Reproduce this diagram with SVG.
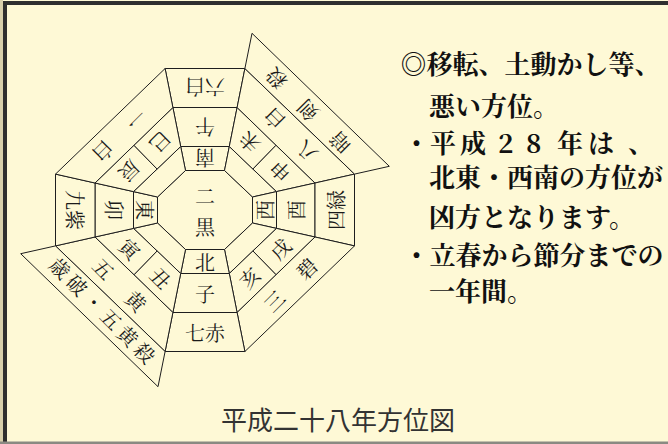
<svg xmlns="http://www.w3.org/2000/svg" width="668" height="444" viewBox="0 0 668 444">
<style>
.cell{fill:#FEF9D6;stroke:#1e1e1e;stroke-width:1;stroke-linejoin:miter}
.lb{font-family:"Noto Serif CJK JP","Noto Sans CJK JP","Noto Sans CJK SC",serif;font-size:20px;fill:#1a1a1a;text-anchor:middle;dominant-baseline:central}
.rt{font-family:"Noto Serif CJK JP","Noto Sans CJK JP","Noto Sans CJK SC",serif;font-size:26px;font-weight:700;fill:#111;dominant-baseline:central}
.cap{font-family:"Noto Sans CJK JP","Noto Sans CJK SC",sans-serif;font-size:26px;fill:#333;dominant-baseline:central}
</style>
<rect x="0" y="0" width="668" height="444" fill="#FEF9D6"/>
<rect x="0" y="0" width="3" height="444" fill="#d8d0ac"/>
<rect x="3" y="1" width="665" height="4" fill="#2f2f2f"/>
<rect x="3" y="1" width="4" height="443" fill="#2f2f2f"/>
<rect x="0" y="441.5" width="668" height="2.5" fill="#8a8a82"/>

<g id="connectors"></g>

<g id="center"><polygon class="cell" points="185.5,170.5 224.5,170.5 252.5,197 252.5,223 224.5,249.5 185.5,249.5 157.5,223 157.5,197"/>
<text class="lb" x="205" y="195">二</text><text class="lb" x="205" y="226.5">黒</text></g>

<g id="ring1-s"><polygon class="cell" points="180.7,146.5 229.3,146.5 224.5,170.5 185.5,170.5"/><text class="lb" transform="translate(205,158.5) rotate(180)">南</text></g>
<g id="ring1-sw"><polygon class="cell" points="229.3,146.5 276.5,191.6 252.5,197 224.5,170.5"/></g>
<g id="ring1-w"><polygon class="cell" points="276.5,191.6 276.5,228.4 252.5,223 252.5,197"/><text class="lb" transform="translate(264.5,210) rotate(-90)">西</text></g>
<g id="ring1-nw"><polygon class="cell" points="276.5,228.4 229.3,273.5 224.5,249.5 252.5,223"/></g>
<g id="ring1-n"><polygon class="cell" points="185.5,249.5 224.5,249.5 229.3,273.5 180.7,273.5"/><text class="lb" x="205" y="261.5">北</text></g>
<g id="ring1-ne"><polygon class="cell" points="180.7,273.5 133.5,228.4 157.5,223 185.5,249.5"/></g>
<g id="ring1-e"><polygon class="cell" points="133.5,228.4 133.5,191.6 157.5,197 157.5,223"/><text class="lb" transform="translate(145.5,210) rotate(90)">東</text></g>
<g id="ring1-se"><polygon class="cell" points="133.5,191.6 180.7,146.5 185.5,170.5 157.5,197"/></g>

<g id="uma"><polygon class="cell" points="172.9,107.5 237.1,107.5 229.3,146.5 180.7,146.5"/><text class="lb" transform="translate(205,127) rotate(180)">午</text></g>
<g id="hitsuji"><polygon class="cell" points="229.3,146.5 252.9,169.05 276.05,145.25 237.1,107.5"/><text class="lb" transform="translate(249,142.5) rotate(-135)">未</text></g>
<g id="saru"><polygon class="cell" points="252.9,169.05 276.5,191.6 315,183 276.05,145.25"/><text class="lb" transform="translate(280,171.5) rotate(-135)">申</text></g>
<g id="tori"><polygon class="cell" points="276.5,191.6 315,183 315,237 276.5,228.4"/><text class="lb" transform="translate(295.5,210) rotate(-90)">酉</text></g>
<g id="inu"><polygon class="cell" points="276.5,228.4 252.9,250.95 276.05,274.75 315,237"/><text class="lb" transform="translate(280,248.5) rotate(-45)">戌</text></g>
<g id="i"><polygon class="cell" points="252.9,250.95 229.3,273.5 237.1,312.5 276.05,274.75"/><text class="lb" transform="translate(249,277.5) rotate(-45)">亥</text></g>
<g id="ne"><polygon class="cell" points="229.3,273.5 237.1,312.5 172.9,312.5 180.7,273.5"/><text class="lb" x="205" y="293.5">子</text></g>
<g id="ushi"><polygon class="cell" points="180.7,273.5 157.1,250.95 133.95,274.75 172.9,312.5"/><text class="lb" transform="translate(161,277.5) rotate(45)">丑</text></g>
<g id="tora"><polygon class="cell" points="157.1,250.95 133.5,228.4 95,237 133.95,274.75"/><text class="lb" transform="translate(130,248.5) rotate(45)">寅</text></g>
<g id="u"><polygon class="cell" points="133.5,228.4 95,237 95,183 133.5,191.6"/><text class="lb" transform="translate(114,210) rotate(90)">卯</text></g>
<g id="tatsu"><polygon class="cell" points="133.5,191.6 157.1,169.05 133.95,145.25 95,183"/><text class="lb" transform="translate(130,171.5) rotate(135)">辰</text></g>
<g id="mi"><polygon class="cell" points="157.1,169.05 180.7,146.5 172.9,107.5 133.95,145.25"/><text class="lb" transform="translate(161,142.5) rotate(135)">巳</text></g>

<g id="roppaku"><polygon class="cell" points="165.1,68.5 244.9,68.5 237.1,107.5 172.9,107.5"/><text class="lb" transform="translate(205,87) rotate(180)">六白</text></g>
<g id="happaku"><polygon class="cell" points="237.1,107.5 244.9,68.5 354.5,174.1 315,183"/><text class="lb" transform="translate(290,135.5) rotate(-135)" x="-23 23">八白</text></g>
<g id="shiroku"><polygon class="cell" points="315,183 354.5,174.1 354.5,245.9 315,237"/><text class="lb" transform="translate(335,210) rotate(-90)">四緑</text></g>
<g id="sanpeki"><polygon class="cell" points="315,237 354.5,245.9 244.9,351.5 237.1,312.5"/><text class="lb" transform="translate(290,284.5) rotate(-45)" x="-23 23">三碧</text></g>
<g id="shichiseki"><polygon class="cell" points="237.1,312.5 244.9,351.5 165.1,351.5 172.9,312.5"/><text class="lb" x="205" y="332.5">七赤</text></g>
<g id="gooh"><polygon class="cell" points="172.9,312.5 165.1,351.5 55.5,245.9 95,237"/><text class="lb" transform="translate(120,284.5) rotate(45)" x="-23 23">五黄</text></g>
<g id="kyushi"><polygon class="cell" points="95,237 55.5,245.9 55.5,174.1 95,183"/><text class="lb" transform="translate(75,210) rotate(90)">九紫</text></g>
<g id="ippaku"><polygon class="cell" points="95,183 55.5,174.1 165.1,68.5 172.9,107.5"/><text class="lb" transform="translate(120,135.5) rotate(135)" x="-23 23">一白</text></g>

<g id="ankensatsu"><polygon class="cell" points="244.9,68.5 252,33.3 389.3,166.3 354.5,174.1"/><text class="lb" transform="translate(307.5,111) rotate(-135)" x="-45 0 45">暗剣殺</text></g>
<g id="saiha"><polygon class="cell" points="165.1,351.5 158,386.7 20.7,253.7 55.5,245.9"/><text class="lb" transform="translate(103,310) rotate(45)" x="-60 -36 -12 12 36 60">歳破・五黄殺</text></g>

<g id="notes">
<text class="rt" x="400.5" y="62.5">◎移転、土動かし等、</text>
<text class="rt" x="429" y="104">悪い方位。</text>
<text class="rt" x="403.5 430 460 498 526 557 588 628" y="141">・平成28年は、</text>
<text class="rt" x="429" y="175">北東・西南の方位が</text>
<text class="rt" x="429" y="215">凶方となります。</text>
<text class="rt" x="403.5" y="253">・立春から節分までの</text>
<text class="rt" x="429" y="289">一年間。</text>
</g>
<g id="caption"><text class="cap" x="221" y="418.5">平成二十八年方位図</text></g>
</svg>
